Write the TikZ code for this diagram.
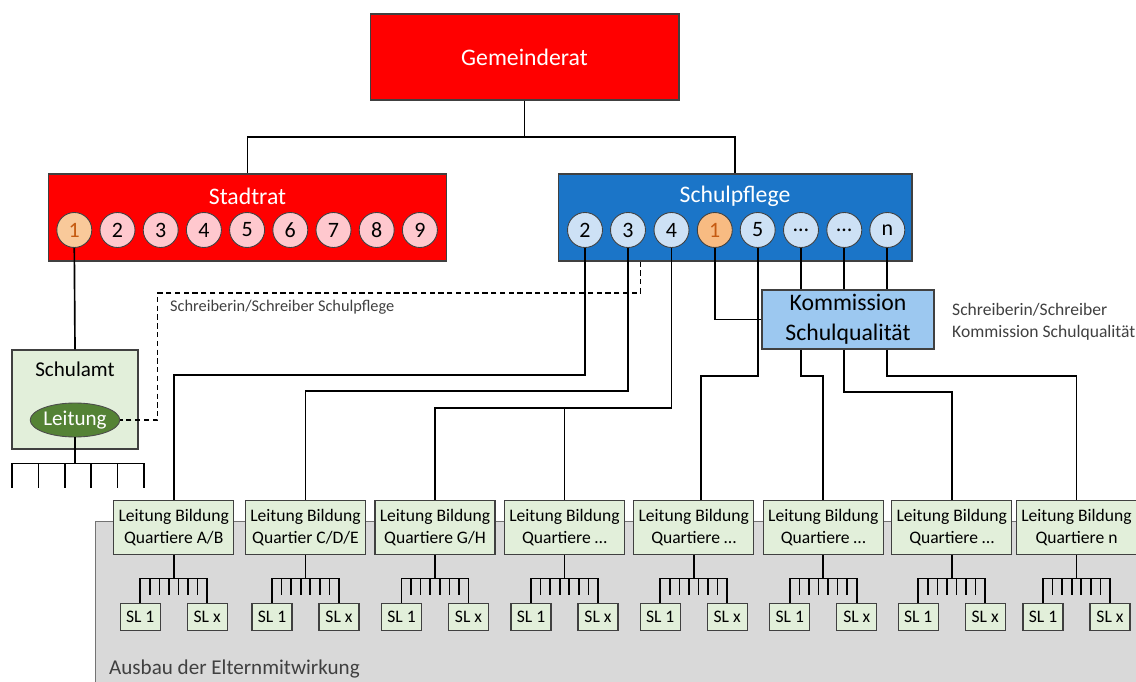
\documentclass[tikz,border=0pt]{standalone}
\usepackage{fontspec}
\setmainfont{Carlito}
\usetikzlibrary{shapes.geometric}

\definecolor{rot}{HTML}{FF0000}
\definecolor{blau}{HTML}{1B75C8}
\definecolor{hellblau}{HTML}{CDE1F5}
\definecolor{kommblau}{HTML}{9CC8F0}
\definecolor{rosa}{HTML}{FFC8CE}
\definecolor{orangehell}{HTML}{F9C99A}
\definecolor{orangekreis}{HTML}{F8BB82}
\definecolor{orangetext}{HTML}{C55A11}
\definecolor{hellgruen}{HTML}{E2EFDA}
\definecolor{dunkelgruen}{HTML}{548235}
\definecolor{grauflaeche}{HTML}{D9D9D9}
\definecolor{grautext}{HTML}{404040}

\begin{document}
\begin{tikzpicture}[x=0.02cm, y=-0.02cm,
  kasten/.style={draw=black!75, line width=0.6pt, inner sep=0pt},
  rund/.style={circle, draw=black!75, line width=0.5pt, minimum size=0.7cm,
    inner sep=0pt, font=\fontsize{12.5}{14}\selectfont},
  gross/.style={font=\fontsize{13.5}{16}\selectfont},
  leitbox/.style={kasten, fill=hellgruen, minimum width=2.4cm, minimum height=1.08cm,
    align=center, font=\fontsize{10}{12.5}\selectfont},
  slbox/.style={kasten, fill=hellgruen, minimum width=0.8cm, minimum height=0.54cm,
    font=\fontsize{10}{12}\selectfont},
  linie/.style={line width=0.95pt}]
\useasboundingbox (0,0) rectangle (1136,682);
%\draw [lightgray](0,0) grid[step=50] (1136,682);

% graue Flaeche unten
\fill [grauflaeche](95,521.7) rectangle (1145,690);
\draw [black!55](95,690) -- (95,521.7) -- (1145,521.7);
\node [anchor=west, grautext, font=\fontsize{12}{14}\selectfont] (eltern) at (103,669){Ausbau der Elternmitwirkung};

% Gemeinderat
\node [kasten, fill=rot, minimum width=6.18cm, minimum height=1.72cm] (gr) at (524.5,57){};
\node [white, gross] (grtext) at (524.5,57){Gemeinderat};

% Stadtrat
\node [kasten, fill=rot, minimum width=7.98cm, minimum height=1.74cm] (st) at (247.5,217.5){};
\node [white, gross] (sttitel) at (247.5,196){Stadtrat};
\node [rund, fill=orangehell, text=orangetext] (st1) at (74.3,230){1};
\foreach \i in {2,...,9}
  \node [rund, fill=rosa] (st\i) at ({74.3+43.2*(\i-1)},230){\i};

% Schulpflege
\node [kasten, fill=blau, minimum width=7.08cm, minimum height=1.74cm] (sp) at (735,217.5){};
\node [white, gross] (sptitel) at (735,196){Schulpflege};
\node [rund, fill=hellblau] (sp2) at (585,230){2};
\node [rund, fill=hellblau] (sp3) at (628,230){3};
\node [rund, fill=hellblau] (sp4) at (671.5,230){4};
\node [rund, fill=orangekreis, text=orangetext] (spa) at (714.8,230){1};
\node [rund, fill=hellblau] (sp5) at (757.7,230){5};
\node [rund, fill=hellblau] (spd1) at (801,230){…};
\node [rund, fill=hellblau] (spd2) at (844.3,230){…};
\node [rund, fill=hellblau] (spn) at (887.3,230){n};

\draw [linie](gr.south) -- (gr.south |- 0,137) -| (st.north);
\draw [linie](gr.south) -- (gr.south |- 0,137) -| (sp.north);

% Schulamt
\node [kasten, fill=hellgruen, minimum width=2.52cm, minimum height=1.98cm] (sa) at (75,399.5){};
\node [font=\fontsize{12}{14}\selectfont] (satitel) at (75,369){Schulamt};
\node [ellipse, draw=black!70, line width=0.5pt, fill=dunkelgruen, text=white,
  minimum width=1.78cm, minimum height=0.68cm, inner sep=0pt,
  font=\fontsize{12}{14}\selectfont] (sal) at (75,420){Leitung};
\draw [linie](st1.south) -- (sa.north);
\draw [linie](sal.south) -- ++(0,26) coordinate (sakamm);
\draw [linie]([xshift=-1.26cm]sakamm) -- ([xshift=1.38cm]sakamm);
\foreach \k in {0,...,5}
  \draw [linie]([xshift={-1.26cm+\k*0.528cm}]sakamm) -- ++(0,25);

% Kommission Schulqualitaet
\node [kasten, fill=kommblau, minimum width=3.44cm, minimum height=1.18cm,
  align=center, gross] (kq) at (848,319.5){Kommission\\[1pt]Schulqualität};
\node [anchor=west, align=left, grautext, font=\fontsize{10}{12.5}\selectfont] (kqschreib) at (946,322)
  {Schreiberin/Schreiber\\Kommission Schulqualität};

% Schreiberin Schulpflege (gestrichelt)
\draw [line width=0.8pt, dash pattern=on 3pt off 2pt](sp.south -| 640.6,0) -- (640.6,293) -| (157.7,420) -- (sal.east);
\node [anchor=west, grautext, font=\fontsize{9.3}{11}\selectfont] (spschreib) at (164,307){Schreiberin/Schreiber Schulpflege};

% Leitung Bildung
\node [leitbox] (lb1) at (173.7,527.5){Leitung Bildung\\Quartiere A/B};
\node [leitbox] (lb2) at (305.5,527.5){Leitung Bildung\\Quartier C/D/E};
\node [leitbox] (lb3) at (435,527.5){Leitung Bildung\\Quartiere G/H};
\node [leitbox] (lb4) at (564.5,527.5){Leitung Bildung\\Quartiere …};
\node [leitbox] (lb5) at (693.7,527.5){Leitung Bildung\\Quartiere …};
\node [leitbox] (lb6) at (823.3,527.5){Leitung Bildung\\Quartiere …};
\node [leitbox] (lb7) at (951.7,527.5){Leitung Bildung\\Quartiere …};
\node [leitbox] (lb8) at (1076.5,527.5){Leitung Bildung\\Quartiere n};

% Verbindungen Schulpflege
\draw [linie](sp2.south) -- (sp2.south |- 0,375) -| (lb1.north);
\draw [linie](sp3.south) -- (sp3.south |- 0,391) -| (lb2.north);
\draw [linie](sp4.south) -- (sp4.south |- 0,408) -| (lb3.north);
\draw [linie](lb4.north) -- (lb4.north |- 0,408);
\draw [linie](spa.south) |- (kq.west);
\draw [linie](sp5.south) -- (sp5.south |- 0,375.7) -| ([xshift=0.14cm]lb5.north);
\draw [linie](spd1.south) -- (spd1.south |- kq.north);
\draw [linie](spd2.south) -- (spd2.south |- kq.north);
\draw [linie](spn.south) -- (spn.south |- kq.north);

% Verbindungen Kommission
\draw [linie](kq.south -| spd1) -- (spd1 |- 0,375.7) -| (lb6.north);
\draw [linie](kq.south -| spd2) -- (spd2 |- 0,392.3) -| (lb7.north);
\draw [linie](kq.south -| spn) -- (spn |- 0,375.7) -| (lb8.north);

% Schulleitungen
\foreach \i in {1,...,8}{
  \node [slbox] (sla\i) at ([xshift=-0.67cm, yshift=-1.79cm]lb\i.center){SL 1};
  \node [slbox] (slb\i) at ([xshift=0.67cm, yshift=-1.79cm]lb\i.center){SL x};
  \draw [linie](lb\i.south) -- ++(0,23.5) coordinate (kamm\i);
  \draw [linie](sla\i.north) |- (kamm\i) -| (slb\i.north);
  \foreach \k in {1,...,6}
    \draw [linie]([xshift={-0.67cm+\k*0.1914cm}]kamm\i) -- ++(0,16);
}
\end{tikzpicture}
\end{document}
